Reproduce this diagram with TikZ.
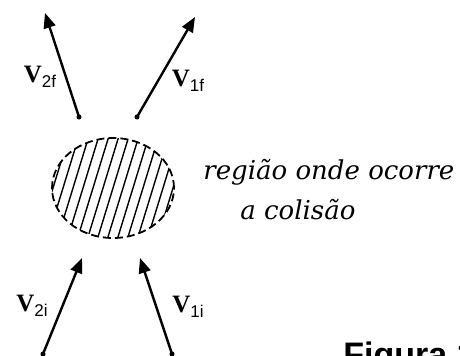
\documentclass[tikz,border=0pt]{standalone}
\usepackage{fontspec}
\setmainfont{Liberation Serif}
\setsansfont{Liberation Sans}
\newfontfamily\legenda{DejaVu Serif}
\usetikzlibrary{arrows.meta, shapes.geometric}

% velocity label: bold V with sans subscript
\newcommand{\vlab}[1]{{\fontsize{12.5}{13}\selectfont\bfseries V}\raisebox{-2.5pt}{\fontsize{8.5}{9}\sffamily #1}}

\begin{document}
\begin{tikzpicture}[x=0.5pt, y=-0.5pt, >={Triangle[length=7.5pt,width=6pt]},
  vec/.style={->, line width=1.2pt},
  tail/.style={circle, fill, inner sep=0.9pt},
  legtxt/.style={font=\legenda\itshape\fontsize{13}{15}\selectfont, anchor=west, inner sep=0pt}]
  \useasboundingbox (0,0) rectangle (460,355);
  \clip (0,0) rectangle (460,355);

  % collision region
  \node[draw, dash pattern=on 4pt off 2pt, line width=0.9pt, ellipse,
        minimum width=61pt, minimum height=50pt, inner sep=0pt] (regiao) at (113,188) {};
  \begin{scope}
    \clip (113,188) ellipse [x radius=30.5pt, y radius=25pt];
    \foreach \d in {-70,-60,...,70}
      \draw[line width=0.7pt] ({113+\d-19},250) -- ({113+\d+19},126);
  \end{scope}
  \node[legtxt] (texto1) at (203,172) {região onde ocorre};
  \node[legtxt] (texto2) at (240,210) {a colisão};

  % final velocities
  \node[tail] (t2f) at (79,117) {};
  \node[tail] (t1f) at (137,117) {};
  \coordinate (h2f) at (45,13);
  \coordinate (h1f) at (195,17);
  \draw[vec] (t2f.center) -- (h2f);
  \draw[vec] (t1f.center) -- (h1f);
  \node (v2f) at (40,77) {\vlab{2f}};
  \node (v1f) at (188,81) {\vlab{1f}};

  % initial velocities
  \node[tail] (t2i) at (43,354) {};
  \node[tail] (t1i) at (172,354) {};
  \coordinate (h2i) at (82,258);
  \coordinate (h1i) at (140,258);
  \draw[vec] (t2i.center) -- (h2i);
  \draw[vec] (t1i.center) -- (h1i);
  \node (v2i) at (32,306) {\vlab{2i}};
  \node (v1i) at (188,307) {\vlab{1i}};

  % caption, cut by the page edge as in the scan
  \node[font=\sffamily\bfseries\fontsize{17}{18}\selectfont, anchor=base west, inner sep=0pt] (fig) at (343,366) {Figura 1};
\end{tikzpicture}
\end{document}
